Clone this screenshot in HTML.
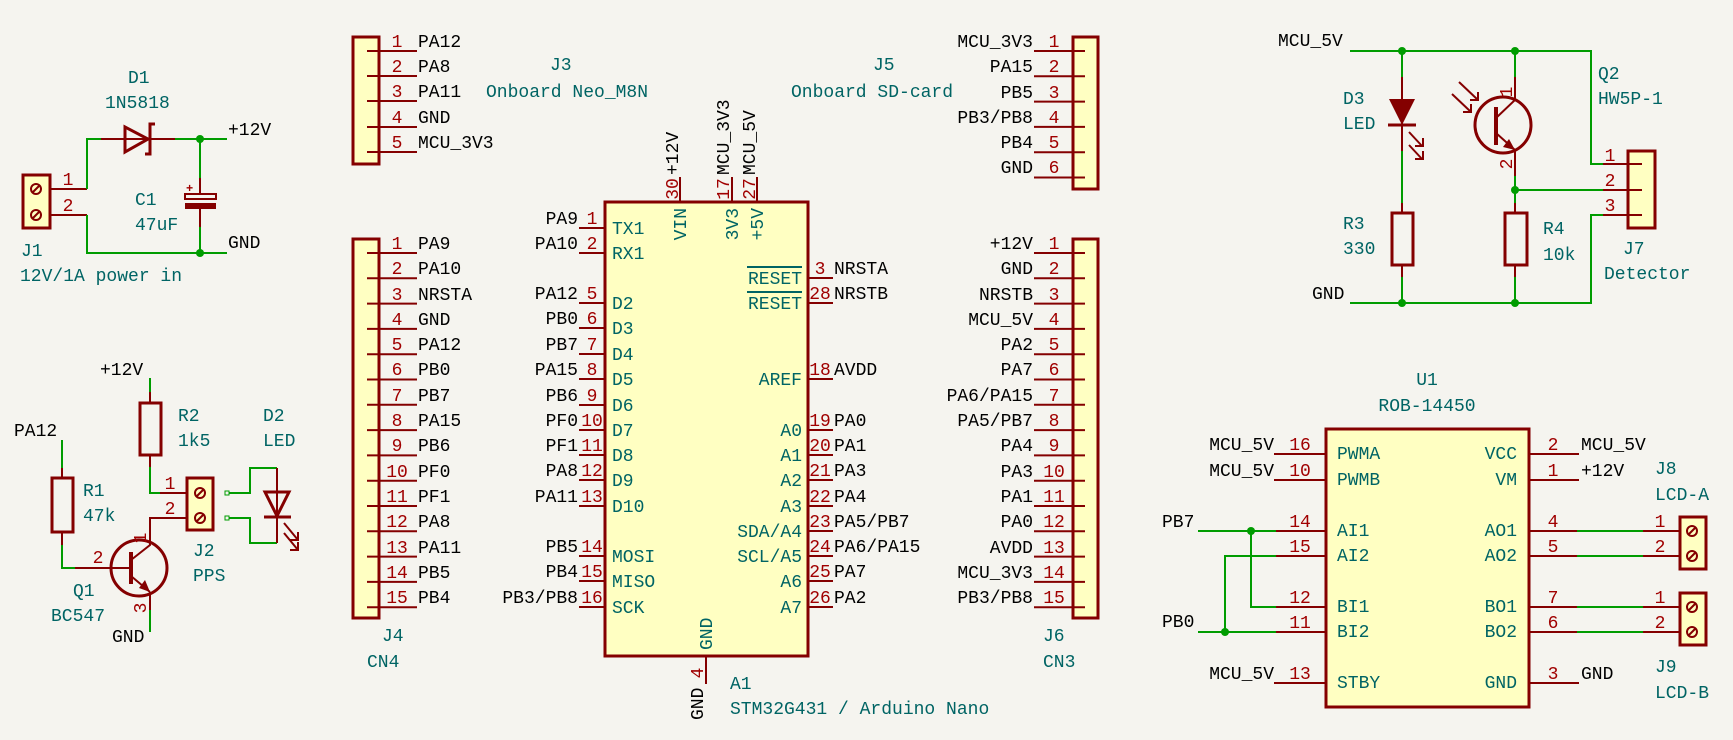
<!DOCTYPE html>
<html><head><meta charset="utf-8"><style>
html,body{margin:0;padding:0;background:#f5f4ef}
svg{display:block}
text{font-family:"Liberation Mono","DejaVu Sans Mono",monospace;font-size:18px}
.k{fill:#000}.p{fill:#a00000}.t{fill:#006464}
.s{font-size:15px}
.w{stroke:#009c00;stroke-width:2;fill:none}
.r{stroke:#840000;stroke-width:2;fill:none}
.b{stroke:#840000;stroke-width:3;fill:#ffffc2}
.j{fill:#009c00}
.m{text-anchor:middle}.e{text-anchor:end}
</style></head><body>
<svg width="1733" height="740" viewBox="0 0 1733 740" xmlns="http://www.w3.org/2000/svg">
<rect width="1733" height="740" fill="#f5f4ef"/>

<!-- ===== J1 power in ===== -->
<rect x="23" y="175" width="27" height="53" class="b"/>
<circle cx="36" cy="189" r="5" class="r"/><line x1="32" y1="193" x2="40" y2="185" class="r"/>
<circle cx="36" cy="215" r="5" class="r"/><line x1="32" y1="219" x2="40" y2="211" class="r"/>
<line x1="50" y1="189" x2="87" y2="189" class="r"/><line x1="50" y1="215" x2="87" y2="215" class="r"/>
<text x="68" y="185" class="p m">1</text><text x="68" y="211" class="p m">2</text>
<polyline points="87,189 87,139 101,139" class="w"/>
<polyline points="87,215 87,253 227,253" class="w"/>
<line x1="101" y1="139" x2="175" y2="139" class="r"/>
<polygon points="125,127 125,152 148,139" class="r" style="stroke-width:3"/>
<polyline points="155,124 150,124 150,154 145,154" class="r" style="stroke-width:3"/>
<line x1="175" y1="139" x2="227" y2="139" class="w"/>
<circle cx="200" cy="139" r="4" class="j"/><circle cx="200" cy="253" r="4" class="j"/>
<line x1="200" y1="139" x2="200" y2="178" class="w"/>
<line x1="200" y1="178" x2="200" y2="193" class="r"/>
<rect x="185" y="194" width="31" height="5" class="r"/>
<rect x="185" y="203" width="31" height="6" fill="#840000"/>
<line x1="200" y1="209" x2="200" y2="227" class="r"/>
<line x1="200" y1="227" x2="200" y2="253" class="w"/>
<text x="186" y="192" class="p" style="font-size:12px;font-weight:bold">+</text>
<text x="228" y="135" class="k">+12V</text>
<text x="228" y="248" class="k">GND</text>
<text x="128" y="83" class="t">D1</text>
<text x="105" y="108" class="t">1N5818</text>
<text x="135" y="205" class="t">C1</text>
<text x="135" y="230" class="t">47uF</text>
<text x="21" y="256" class="t">J1</text>
<text x="20" y="281" class="t">12V/1A power in</text>

<!-- ===== Q1 / R1 / R2 / J2 / D2 ===== -->
<text x="100" y="375" class="k">+12V</text>
<line x1="150" y1="378" x2="150" y2="392" class="w"/>
<line x1="150" y1="392" x2="150" y2="403" class="r"/>
<rect x="140" y="403" width="21" height="52" class="r" style="stroke-width:3"/>
<line x1="150" y1="455" x2="150" y2="467" class="r"/>
<polyline points="150,467 150,493 160,493" class="w"/>
<line x1="160" y1="493" x2="187" y2="493" class="r"/>
<text x="170" y="489" class="p m">1</text>
<polyline points="187,518 150,518 150,543" class="r"/>
<text x="170" y="514" class="p m">2</text>
<rect x="187" y="478" width="26" height="52" class="b"/>
<circle cx="200" cy="493" r="5" class="r"/><line x1="196" y1="497" x2="204" y2="489" class="r"/>
<circle cx="200" cy="518" r="5" class="r"/><line x1="196" y1="522" x2="204" y2="514" class="r"/>
<rect x="225" y="491" width="4" height="4" fill="none" stroke="#009c00" stroke-width="1"/>
<rect x="225" y="516" width="4" height="4" fill="none" stroke="#009c00" stroke-width="1"/>
<polyline points="229,493 250,493 250,468 277,468" class="w"/>
<polyline points="229,518 250,518 250,543 277,543" class="w"/>
<line x1="277" y1="468" x2="277" y2="543" class="r"/>
<polygon points="265,492 289,492 277,516" class="r" style="stroke-width:3"/>
<line x1="264" y1="517" x2="291" y2="517" class="r" style="stroke-width:3"/>
<line x1="284" y1="523" x2="298" y2="540" class="r"/><polyline points="290,540 298,540 298,532" class="r"/>
<line x1="284" y1="533" x2="298" y2="550" class="r"/><polyline points="290,550 298,550 298,542" class="r"/>
<text x="14" y="436" class="k">PA12</text>
<line x1="62" y1="440" x2="62" y2="468" class="w"/>
<line x1="62" y1="468" x2="62" y2="478" class="r"/>
<rect x="52" y="478" width="21" height="54" class="r" style="stroke-width:3"/>
<line x1="62" y1="532" x2="62" y2="545" class="r"/>
<polyline points="62,545 62,568 75,568" class="w"/>
<line x1="75" y1="568" x2="130" y2="568" class="r"/>
<text x="98" y="563" class="p m">2</text>
<circle cx="139" cy="568" r="28" class="r" style="stroke-width:3"/>
<line x1="131" y1="552" x2="131" y2="584" class="r" style="stroke-width:4"/>
<polyline points="131,560 150,545 150,543" class="r"/>
<line x1="131" y1="576" x2="150" y2="592" class="r"/>
<polygon points="150,592 139,588 145,580" fill="#840000"/>
<line x1="150" y1="592" x2="150" y2="610" class="r"/>
<line x1="150" y1="610" x2="150" y2="632" class="w"/>
<text transform="translate(146,538) rotate(-90)" class="p m">1</text>
<text transform="translate(146,608) rotate(-90)" class="p m">3</text>
<text x="112" y="642" class="k">GND</text>
<text x="178" y="421" class="t">R2</text>
<text x="178" y="446" class="t">1k5</text>
<text x="263" y="421" class="t">D2</text>
<text x="263" y="446" class="t">LED</text>
<text x="83" y="496" class="t">R1</text>
<text x="83" y="521" class="t">47k</text>
<text x="73" y="596" class="t">Q1</text>
<text x="51" y="621" class="t">BC547</text>
<text x="193" y="556" class="t">J2</text>
<text x="193" y="581" class="t">PPS</text>

<!-- ===== J3 ===== -->
<rect x="353" y="37" width="26" height="127" class="b"/>
<g class="r">
<line x1="367" y1="51" x2="417" y2="51"/><line x1="367" y1="76" x2="417" y2="76"/><line x1="367" y1="101" x2="417" y2="101"/><line x1="367" y1="127" x2="417" y2="127"/><line x1="367" y1="152" x2="417" y2="152"/>
</g>
<g class="p m"><text x="397" y="47">1</text><text x="397" y="72">2</text><text x="397" y="97">3</text><text x="397" y="123">4</text><text x="397" y="148">5</text></g>
<g class="k"><text x="418" y="47">PA12</text><text x="418" y="72">PA8</text><text x="418" y="97">PA11</text><text x="418" y="123">GND</text><text x="418" y="148">MCU_3V3</text></g>
<text x="550" y="70" class="t">J3</text>
<text x="486" y="97" class="t">Onboard Neo_M8N</text>

<!-- ===== J4 ===== -->
<rect x="353" y="239" width="26" height="379" class="b"/>
<g class="r">
<line x1="367" y1="253" x2="417" y2="253"/><line x1="367" y1="278.3" x2="417" y2="278.3"/><line x1="367" y1="303.6" x2="417" y2="303.6"/><line x1="367" y1="328.9" x2="417" y2="328.9"/><line x1="367" y1="354.2" x2="417" y2="354.2"/><line x1="367" y1="379.5" x2="417" y2="379.5"/><line x1="367" y1="404.8" x2="417" y2="404.8"/><line x1="367" y1="430.1" x2="417" y2="430.1"/><line x1="367" y1="455.4" x2="417" y2="455.4"/><line x1="367" y1="480.7" x2="417" y2="480.7"/><line x1="367" y1="506" x2="417" y2="506"/><line x1="367" y1="531.3" x2="417" y2="531.3"/><line x1="367" y1="556.6" x2="417" y2="556.6"/><line x1="367" y1="581.9" x2="417" y2="581.9"/><line x1="367" y1="607.2" x2="417" y2="607.2"/>
</g>
<g class="p m"><text x="397" y="249">1</text><text x="397" y="274">2</text><text x="397" y="300">3</text><text x="397" y="325">4</text><text x="397" y="350">5</text><text x="397" y="375">6</text><text x="397" y="401">7</text><text x="397" y="426">8</text><text x="397" y="451">9</text><text x="397" y="477">10</text><text x="397" y="502">11</text><text x="397" y="527">12</text><text x="397" y="553">13</text><text x="397" y="578">14</text><text x="397" y="603">15</text></g>
<g class="k"><text x="418" y="249">PA9</text><text x="418" y="274">PA10</text><text x="418" y="300">NRSTA</text><text x="418" y="325">GND</text><text x="418" y="350">PA12</text><text x="418" y="375">PB0</text><text x="418" y="401">PB7</text><text x="418" y="426">PA15</text><text x="418" y="451">PB6</text><text x="418" y="477">PF0</text><text x="418" y="502">PF1</text><text x="418" y="527">PA8</text><text x="418" y="553">PA11</text><text x="418" y="578">PB5</text><text x="418" y="603">PB4</text></g>
<text x="382" y="641" class="t">J4</text>
<text x="367" y="667" class="t">CN4</text>

<!-- ===== A1 Arduino ===== -->
<rect x="605" y="202" width="203" height="454" class="b"/>
<g class="r">
<line x1="579" y1="228" x2="605" y2="228"/><line x1="579" y1="253" x2="605" y2="253"/><line x1="579" y1="303" x2="605" y2="303"/><line x1="579" y1="328" x2="605" y2="328"/><line x1="579" y1="354" x2="605" y2="354"/><line x1="579" y1="379" x2="605" y2="379"/><line x1="579" y1="405" x2="605" y2="405"/><line x1="579" y1="430" x2="605" y2="430"/><line x1="579" y1="455" x2="605" y2="455"/><line x1="579" y1="480" x2="605" y2="480"/><line x1="579" y1="506" x2="605" y2="506"/><line x1="579" y1="556" x2="605" y2="556"/><line x1="579" y1="581" x2="605" y2="581"/><line x1="579" y1="607" x2="605" y2="607"/>
<line x1="808" y1="278" x2="833" y2="278"/><line x1="808" y1="303" x2="833" y2="303"/><line x1="808" y1="379" x2="833" y2="379"/><line x1="808" y1="430" x2="833" y2="430"/><line x1="808" y1="455" x2="833" y2="455"/><line x1="808" y1="480" x2="833" y2="480"/><line x1="808" y1="506" x2="833" y2="506"/><line x1="808" y1="531" x2="833" y2="531"/><line x1="808" y1="556" x2="833" y2="556"/><line x1="808" y1="581" x2="833" y2="581"/><line x1="808" y1="607" x2="833" y2="607"/>
<line x1="680" y1="177" x2="680" y2="202"/><line x1="732" y1="177" x2="732" y2="202"/><line x1="757" y1="177" x2="757" y2="202"/>
<line x1="706" y1="656" x2="706" y2="684"/>
</g>
<g class="p m"><text x="592" y="224">1</text><text x="592" y="249">2</text><text x="592" y="299">5</text><text x="592" y="324">6</text><text x="592" y="350">7</text><text x="592" y="375">8</text><text x="592" y="401">9</text><text x="592" y="426">10</text><text x="592" y="451">11</text><text x="592" y="476">12</text><text x="592" y="502">13</text><text x="592" y="552">14</text><text x="592" y="577">15</text><text x="592" y="603">16</text>
<text x="820" y="274">3</text><text x="820" y="299">28</text><text x="820" y="375">18</text><text x="820" y="426">19</text><text x="820" y="451">20</text><text x="820" y="476">21</text><text x="820" y="502">22</text><text x="820" y="527">23</text><text x="820" y="552">24</text><text x="820" y="577">25</text><text x="820" y="603">26</text></g>
<g class="k e"><text x="578" y="224">PA9</text><text x="578" y="249">PA10</text><text x="578" y="299">PA12</text><text x="578" y="324">PB0</text><text x="578" y="350">PB7</text><text x="578" y="375">PA15</text><text x="578" y="401">PB6</text><text x="578" y="426">PF0</text><text x="578" y="451">PF1</text><text x="578" y="476">PA8</text><text x="578" y="502">PA11</text><text x="578" y="552">PB5</text><text x="578" y="577">PB4</text><text x="578" y="603">PB3/PB8</text></g>
<g class="k"><text x="834" y="274">NRSTA</text><text x="834" y="299">NRSTB</text><text x="834" y="375">AVDD</text><text x="834" y="426">PA0</text><text x="834" y="451">PA1</text><text x="834" y="476">PA3</text><text x="834" y="502">PA4</text><text x="834" y="527">PA5/PB7</text><text x="834" y="552">PA6/PA15</text><text x="834" y="577">PA7</text><text x="834" y="603">PA2</text></g>
<g class="t"><text x="612" y="234">TX1</text><text x="612" y="259">RX1</text><text x="612" y="309">D2</text><text x="612" y="334">D3</text><text x="612" y="360">D4</text><text x="612" y="385">D5</text><text x="612" y="411">D6</text><text x="612" y="436">D7</text><text x="612" y="461">D8</text><text x="612" y="486">D9</text><text x="612" y="512">D10</text><text x="612" y="562">MOSI</text><text x="612" y="587">MISO</text><text x="612" y="613">SCK</text></g>
<g class="t e"><text x="802" y="284">RESET</text><text x="802" y="309">RESET</text><text x="802" y="385">AREF</text><text x="802" y="436">A0</text><text x="802" y="461">A1</text><text x="802" y="486">A2</text><text x="802" y="512">A3</text><text x="802" y="537">SDA/A4</text><text x="802" y="562">SCL/A5</text><text x="802" y="587">A6</text><text x="802" y="613">A7</text></g>
<line x1="747" y1="267" x2="802" y2="267" stroke="#006464" stroke-width="2"/>
<line x1="747" y1="292" x2="802" y2="292" stroke="#006464" stroke-width="2"/>
<text transform="translate(678,175) rotate(-90)" class="k">+12V</text>
<text transform="translate(729,175) rotate(-90)" class="k">MCU_3V3</text>
<text transform="translate(755,175) rotate(-90)" class="k">MCU_5V</text>
<text transform="translate(678,189) rotate(-90)" class="p m">30</text>
<text transform="translate(729,189) rotate(-90)" class="p m">17</text>
<text transform="translate(755,189) rotate(-90)" class="p m">27</text>
<text transform="translate(686,208) rotate(-90)" class="t e">VIN</text>
<text transform="translate(738,208) rotate(-90)" class="t e">3V3</text>
<text transform="translate(763,208) rotate(-90)" class="t e">+5V</text>
<text transform="translate(712,650) rotate(-90)" class="t">GND</text>
<text transform="translate(703,673) rotate(-90)" class="p m">4</text>
<text transform="translate(703,720) rotate(-90)" class="k">GND</text>
<text x="730" y="689" class="t">A1</text>
<text x="730" y="714" class="t">STM32G431 / Arduino Nano</text>

<!-- ===== J5 ===== -->
<rect x="1073" y="37" width="25" height="152" class="b"/>
<g class="r">
<line x1="1034" y1="51" x2="1085" y2="51"/><line x1="1034" y1="76.3" x2="1085" y2="76.3"/><line x1="1034" y1="101.6" x2="1085" y2="101.6"/><line x1="1034" y1="126.9" x2="1085" y2="126.9"/><line x1="1034" y1="152.2" x2="1085" y2="152.2"/><line x1="1034" y1="177.5" x2="1085" y2="177.5"/>
</g>
<g class="p m"><text x="1054" y="47">1</text><text x="1054" y="72">2</text><text x="1054" y="98">3</text><text x="1054" y="123">4</text><text x="1054" y="148">5</text><text x="1054" y="173">6</text></g>
<g class="k e"><text x="1033" y="47">MCU_3V3</text><text x="1033" y="72">PA15</text><text x="1033" y="98">PB5</text><text x="1033" y="123">PB3/PB8</text><text x="1033" y="148">PB4</text><text x="1033" y="173">GND</text></g>
<text x="873" y="70" class="t">J5</text>
<text x="791" y="97" class="t">Onboard SD-card</text>

<!-- ===== J6 ===== -->
<rect x="1073" y="239" width="25" height="379" class="b"/>
<g class="r">
<line x1="1034" y1="253" x2="1085" y2="253"/><line x1="1034" y1="278.3" x2="1085" y2="278.3"/><line x1="1034" y1="303.6" x2="1085" y2="303.6"/><line x1="1034" y1="328.9" x2="1085" y2="328.9"/><line x1="1034" y1="354.2" x2="1085" y2="354.2"/><line x1="1034" y1="379.5" x2="1085" y2="379.5"/><line x1="1034" y1="404.8" x2="1085" y2="404.8"/><line x1="1034" y1="430.1" x2="1085" y2="430.1"/><line x1="1034" y1="455.4" x2="1085" y2="455.4"/><line x1="1034" y1="480.7" x2="1085" y2="480.7"/><line x1="1034" y1="506" x2="1085" y2="506"/><line x1="1034" y1="531.3" x2="1085" y2="531.3"/><line x1="1034" y1="556.6" x2="1085" y2="556.6"/><line x1="1034" y1="581.9" x2="1085" y2="581.9"/><line x1="1034" y1="607.2" x2="1085" y2="607.2"/>
</g>
<g class="p m"><text x="1054" y="249">1</text><text x="1054" y="274">2</text><text x="1054" y="300">3</text><text x="1054" y="325">4</text><text x="1054" y="350">5</text><text x="1054" y="375">6</text><text x="1054" y="401">7</text><text x="1054" y="426">8</text><text x="1054" y="451">9</text><text x="1054" y="477">10</text><text x="1054" y="502">11</text><text x="1054" y="527">12</text><text x="1054" y="553">13</text><text x="1054" y="578">14</text><text x="1054" y="603">15</text></g>
<g class="k e"><text x="1033" y="249">+12V</text><text x="1033" y="274">GND</text><text x="1033" y="300">NRSTB</text><text x="1033" y="325">MCU_5V</text><text x="1033" y="350">PA2</text><text x="1033" y="375">PA7</text><text x="1033" y="401">PA6/PA15</text><text x="1033" y="426">PA5/PB7</text><text x="1033" y="451">PA4</text><text x="1033" y="477">PA3</text><text x="1033" y="502">PA1</text><text x="1033" y="527">PA0</text><text x="1033" y="553">AVDD</text><text x="1033" y="578">MCU_3V3</text><text x="1033" y="603">PB3/PB8</text></g>
<text x="1043" y="641" class="t">J6</text>
<text x="1043" y="667" class="t">CN3</text>

<!-- ===== Detector ===== -->
<text x="1278" y="46" class="k">MCU_5V</text>
<text x="1312" y="299" class="k">GND</text>
<polyline points="1350,51 1591,51 1591,164 1603,164" class="w"/>
<polyline points="1350,303 1591,303 1591,215 1603,215" class="w"/>
<circle cx="1402" cy="51" r="4" class="j"/><circle cx="1515" cy="51" r="4" class="j"/>
<circle cx="1402" cy="303" r="4" class="j"/><circle cx="1515" cy="303" r="4" class="j"/>
<circle cx="1515" cy="190" r="4" class="j"/>
<line x1="1402" y1="51" x2="1402" y2="77" class="w"/>
<line x1="1402" y1="77" x2="1402" y2="151" class="r"/>
<polygon points="1389,99 1415,99 1402,125" fill="#840000"/>
<line x1="1388" y1="125" x2="1416" y2="125" class="r" style="stroke-width:3"/>
<line x1="1409" y1="132" x2="1422" y2="146" class="r"/><polyline points="1415,146 1423,146 1423,138" class="r"/>
<line x1="1409" y1="145" x2="1422" y2="159" class="r"/><polyline points="1415,159 1423,159 1423,151" class="r"/>
<line x1="1402" y1="151" x2="1402" y2="203" class="w"/>
<line x1="1402" y1="203" x2="1402" y2="213" class="r"/>
<rect x="1392" y="213" width="21" height="52" class="r" style="stroke-width:3"/>
<line x1="1402" y1="265" x2="1402" y2="277" class="r"/>
<line x1="1402" y1="277" x2="1402" y2="303" class="w"/>
<line x1="1515" y1="51" x2="1515" y2="77" class="w"/>
<polyline points="1515,77 1515,100 1496,118" class="r"/>
<circle cx="1503" cy="125" r="28" class="r" style="stroke-width:3"/>
<line x1="1496" y1="107" x2="1496" y2="145" class="r" style="stroke-width:4"/>
<line x1="1496" y1="133" x2="1515" y2="150" class="r"/>
<polygon points="1515,150 1503,147 1509,139" fill="#840000"/>
<line x1="1515" y1="150" x2="1515" y2="176" class="r"/>
<line x1="1515" y1="176" x2="1515" y2="203" class="w"/>
<line x1="1515" y1="190" x2="1603" y2="190" class="w"/>
<line x1="1515" y1="203" x2="1515" y2="213" class="r"/>
<rect x="1505" y="213" width="22" height="52" class="r" style="stroke-width:3"/>
<line x1="1515" y1="265" x2="1515" y2="277" class="r"/>
<line x1="1515" y1="277" x2="1515" y2="303" class="w"/>
<line x1="1459" y1="82" x2="1478" y2="100" class="r"/><polyline points="1470,100 1478,100 1478,92" class="r"/>
<line x1="1452" y1="94" x2="1471" y2="112" class="r"/><polyline points="1463,112 1471,112 1471,104" class="r"/>
<text transform="translate(1512,92) rotate(-90)" class="p m">1</text>
<text transform="translate(1512,164) rotate(-90)" class="p m">2</text>
<rect x="1628" y="151" width="27" height="77" class="b"/>
<line x1="1603" y1="164" x2="1642" y2="164" class="r"/>
<line x1="1603" y1="190" x2="1642" y2="190" class="r"/>
<line x1="1603" y1="215" x2="1642" y2="215" class="r"/>
<g class="p m"><text x="1610" y="161">1</text><text x="1610" y="186">2</text><text x="1610" y="211">3</text></g>
<text x="1343" y="104" class="t">D3</text>
<text x="1343" y="129" class="t">LED</text>
<text x="1343" y="229" class="t">R3</text>
<text x="1343" y="254" class="t">330</text>
<text x="1543" y="234" class="t">R4</text>
<text x="1543" y="260" class="t">10k</text>
<text x="1598" y="79" class="t">Q2</text>
<text x="1598" y="104" class="t">HW5P-1</text>
<text x="1623" y="254" class="t">J7</text>
<text x="1604" y="279" class="t">Detector</text>

<!-- ===== U1 ===== -->
<text x="1427" y="385" class="t m">U1</text>
<text x="1427" y="411" class="t m">ROB-14450</text>
<rect x="1326" y="429" width="203" height="278" class="b"/>
<g class="r">
<line x1="1274" y1="454" x2="1326" y2="454"/><line x1="1274" y1="480" x2="1326" y2="480"/><line x1="1276" y1="531" x2="1326" y2="531"/><line x1="1276" y1="556" x2="1326" y2="556"/><line x1="1276" y1="607" x2="1326" y2="607"/><line x1="1276" y1="632" x2="1326" y2="632"/><line x1="1274" y1="683" x2="1326" y2="683"/>
<line x1="1529" y1="454" x2="1579" y2="454"/><line x1="1529" y1="480" x2="1579" y2="480"/><line x1="1529" y1="531" x2="1577" y2="531"/><line x1="1529" y1="556" x2="1577" y2="556"/><line x1="1529" y1="607" x2="1577" y2="607"/><line x1="1529" y1="632" x2="1577" y2="632"/><line x1="1529" y1="683" x2="1579" y2="683"/>
<line x1="1643" y1="531" x2="1680" y2="531"/><line x1="1643" y1="556" x2="1680" y2="556"/><line x1="1643" y1="607" x2="1680" y2="607"/><line x1="1643" y1="632" x2="1680" y2="632"/>
</g>
<g class="w">
<line x1="1577" y1="531" x2="1643" y2="531"/><line x1="1577" y1="556" x2="1643" y2="556"/><line x1="1577" y1="607" x2="1643" y2="607"/><line x1="1577" y1="632" x2="1643" y2="632"/>
<line x1="1198" y1="531" x2="1276" y2="531"/><polyline points="1251,531 1251,607 1276,607"/>
<line x1="1198" y1="632" x2="1276" y2="632"/><polyline points="1225,632 1225,556 1276,556"/>
</g>
<circle cx="1251" cy="531" r="4" class="j"/><circle cx="1225" cy="632" r="4" class="j"/>
<g class="p m s"><text x="1300" y="450">16</text><text x="1300" y="476">10</text><text x="1300" y="527">14</text><text x="1300" y="552">15</text><text x="1300" y="603">12</text><text x="1300" y="628">11</text><text x="1300" y="679">13</text>
<text x="1553" y="450">2</text><text x="1553" y="476">1</text><text x="1553" y="527">4</text><text x="1553" y="552">5</text><text x="1553" y="603">7</text><text x="1553" y="628">6</text><text x="1553" y="679">3</text></g>
<g class="t s"><text x="1337" y="459">PWMA</text><text x="1337" y="485">PWMB</text><text x="1337" y="536">AI1</text><text x="1337" y="561">AI2</text><text x="1337" y="612">BI1</text><text x="1337" y="637">BI2</text><text x="1337" y="688">STBY</text></g>
<g class="t s e"><text x="1517" y="459">VCC</text><text x="1517" y="485">VM</text><text x="1517" y="536">AO1</text><text x="1517" y="561">AO2</text><text x="1517" y="612">BO1</text><text x="1517" y="637">BO2</text><text x="1517" y="688">GND</text></g>
<g class="k e"><text x="1274" y="450">MCU_5V</text><text x="1274" y="476">MCU_5V</text><text x="1274" y="679">MCU_5V</text></g>
<text x="1162" y="527" class="k">PB7</text>
<text x="1162" y="627" class="k">PB0</text>
<g class="k"><text x="1581" y="450">MCU_5V</text><text x="1581" y="476">+12V</text><text x="1581" y="679">GND</text></g>
<rect x="1680" y="517" width="26" height="52" class="b"/>
<circle cx="1692" cy="531" r="5" class="r"/><line x1="1688" y1="535" x2="1696" y2="527" class="r"/>
<circle cx="1692" cy="556" r="5" class="r"/><line x1="1688" y1="560" x2="1696" y2="552" class="r"/>
<rect x="1680" y="593" width="26" height="52" class="b"/>
<circle cx="1692" cy="607" r="5" class="r"/><line x1="1688" y1="611" x2="1696" y2="603" class="r"/>
<circle cx="1692" cy="632" r="5" class="r"/><line x1="1688" y1="636" x2="1696" y2="628" class="r"/>
<g class="p m"><text x="1660" y="527">1</text><text x="1660" y="552">2</text><text x="1660" y="603">1</text><text x="1660" y="628">2</text></g>
<text x="1655" y="474" class="t">J8</text>
<text x="1655" y="500" class="t">LCD-A</text>
<text x="1655" y="672" class="t">J9</text>
<text x="1655" y="698" class="t">LCD-B</text>
</svg>
</body></html>
